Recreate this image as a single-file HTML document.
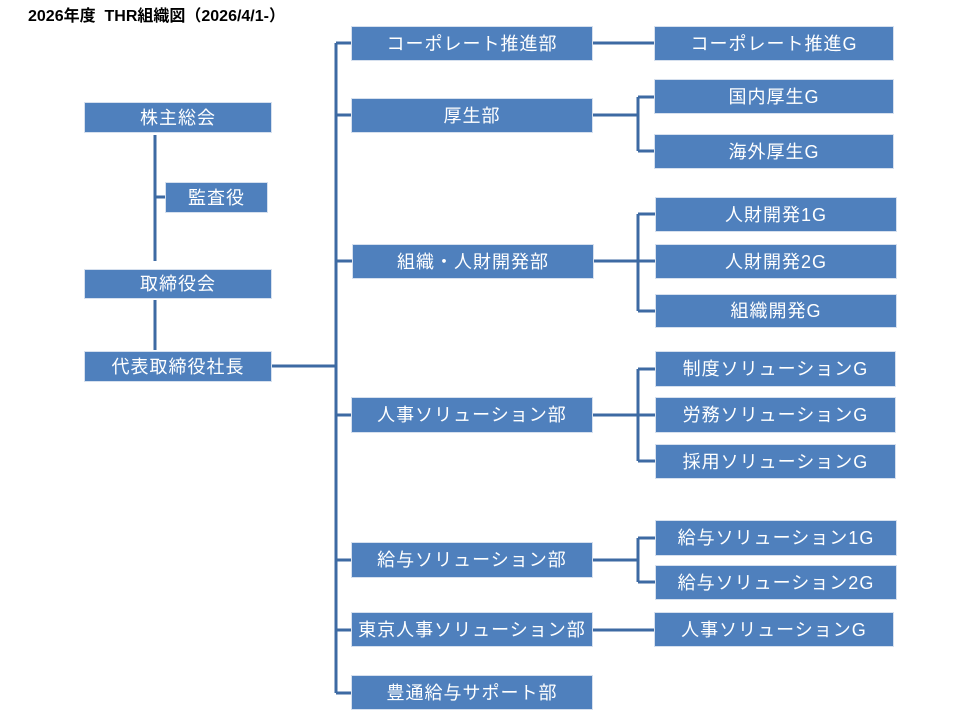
<!DOCTYPE html>
<html><head><meta charset="utf-8"><style>
body{margin:0;width:960px;height:720px;background:#fff;position:relative;overflow:hidden;font-family:"Liberation Sans","Noto Sans CJK JP",sans-serif}
.b{position:absolute;background:#4f80bd;color:#fff;font-size:18px;display:flex;align-items:center;justify-content:center;box-shadow:0 0 0 1px #d6e0ee;letter-spacing:1px;line-height:1}
.t{position:absolute;left:28px;top:2px;font-size:16px;font-weight:bold;color:#000}
svg{position:absolute;left:0;top:0}
</style></head><body>
<div class="t">2026年度 &nbsp;THR組織図（2026/4/1-）</div>
<svg width="960" height="720"><g stroke="#3d6aa3" stroke-width="3" fill="none">
<path d="M155 135V261M155 197H166"/>
<path d="M155 300V350"/>
<path d="M272 366H336M336 43V693"/>
<path d="M336 43H352M336 115H352M336 261H352M336 415H352M336 560H352M336 630H352M336 693H352"/>
<path d="M593 43H655"/>
<path d="M593 115H638M638 97V151M638 97H655M638 151H655"/>
<path d="M593 261H655M638 214V311M638 214H655M638 311H655"/>
<path d="M593 415H655M638 369V461M638 369H655M638 461H655"/>
<path d="M593 560H638M638 538V582M638 538H655M638 582H655"/>
<path d="M593 630H655"/>
</g></svg>
<div class="b" style="left:85px;top:103px;width:186px;height:29px">株主総会</div>
<div class="b" style="left:166px;top:183px;width:101px;height:29px">監査役</div>
<div class="b" style="left:85px;top:270px;width:186px;height:28px">取締役会</div>
<div class="b" style="left:85px;top:352px;width:186px;height:29px">代表取締役社長</div>
<div class="b" style="left:352px;top:27px;width:240px;height:33px">コーポレート推進部</div>
<div class="b" style="left:352px;top:99px;width:240px;height:33px">厚生部</div>
<div class="b" style="left:353px;top:245px;width:240px;height:33px">組織・人財開発部</div>
<div class="b" style="left:352px;top:398px;width:240px;height:34px">人事ソリューション部</div>
<div class="b" style="left:352px;top:543px;width:240px;height:34px">給与ソリューション部</div>
<div class="b" style="left:352px;top:613px;width:240px;height:33px">東京人事ソリューション部</div>
<div class="b" style="left:352px;top:676px;width:240px;height:33px">豊通給与サポート部</div>
<div class="b" style="left:655px;top:27px;width:238px;height:33px">コーポレート推進G</div>
<div class="b" style="left:655px;top:80px;width:238px;height:33px">国内厚生G</div>
<div class="b" style="left:655px;top:135px;width:238px;height:33px">海外厚生G</div>
<div class="b" style="left:656px;top:198px;width:240px;height:33px">人財開発1G</div>
<div class="b" style="left:656px;top:245px;width:240px;height:33px">人財開発2G</div>
<div class="b" style="left:656px;top:295px;width:240px;height:32px">組織開発G</div>
<div class="b" style="left:656px;top:352px;width:239px;height:34px">制度ソリューションG</div>
<div class="b" style="left:656px;top:398px;width:239px;height:34px">労務ソリューションG</div>
<div class="b" style="left:656px;top:445px;width:239px;height:33px">採用ソリューションG</div>
<div class="b" style="left:656px;top:521px;width:240px;height:34px">給与ソリューション1G</div>
<div class="b" style="left:656px;top:566px;width:240px;height:33px">給与ソリューション2G</div>
<div class="b" style="left:655px;top:613px;width:238px;height:33px">人事ソリューションG</div>
</body></html>
